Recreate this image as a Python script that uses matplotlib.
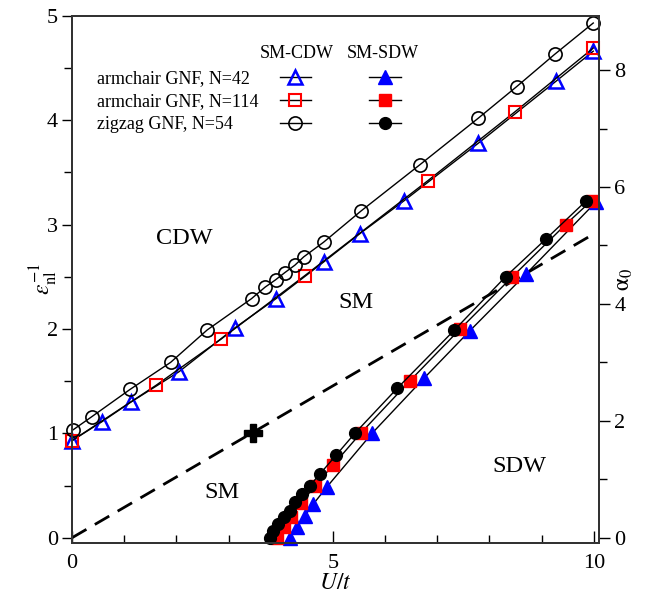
import matplotlib.pyplot as plt
from matplotlib.lines import Line2D
import numpy as np

plt.rcParams['font.family'] = ['Liberation Serif', 'DejaVu Serif']
plt.rcParams['mathtext.fontset'] = 'stix'

# --- data (U/t, eps_nl^-1) ---
# SM-CDW boundary
cdw42_x = [0.0, 0.57, 1.13, 2.05, 3.12, 3.91, 4.82, 5.51, 6.37, 7.79, 9.27, 9.99]
cdw42_y = [0.93, 1.11, 1.30, 1.59, 2.01, 2.29, 2.64, 2.91, 3.23, 3.78, 4.37, 4.66]

cdw114_x = [0.0, 1.61, 2.85, 4.46, 6.82, 8.49, 9.99]
cdw114_y = [0.93, 1.46, 1.90, 2.51, 3.42, 4.08, 4.69]

cdw54_x = [0.01, 0.38, 1.11, 1.89, 2.59, 3.44, 3.70, 3.90, 4.08, 4.27, 4.44,
           4.82, 5.54, 6.66, 7.79, 8.52, 9.25, 9.99]
cdw54_y = [1.03, 1.16, 1.42, 1.68, 1.99, 2.29, 2.40, 2.47, 2.54, 2.61, 2.69,
           2.83, 3.13, 3.57, 4.02, 4.32, 4.63, 4.93]

# SM-SDW boundary
sdw42_x = [4.18, 4.32, 4.46, 4.62, 4.89, 5.75, 6.75, 7.62, 8.71, 10.05]
sdw42_y = [0.0, 0.10, 0.21, 0.32, 0.49, 1.0, 1.53, 1.98, 2.53, 3.22]

sdw114_x = [3.93, 4.06, 4.19, 4.39, 4.66, 5.01, 5.53, 6.47, 7.44, 8.44, 9.46, 9.96]
sdw114_y = [0.0, 0.10, 0.20, 0.33, 0.50, 0.70, 1.0, 1.50, 2.0, 2.50, 3.0, 3.23]

sdw54_x = [3.80, 3.86, 3.95, 4.06, 4.17, 4.28, 4.41, 4.56, 4.75, 5.06, 5.42,
           6.23, 7.33, 8.31, 9.08, 9.86]
sdw54_y = [0.0, 0.06, 0.13, 0.20, 0.26, 0.34, 0.42, 0.50, 0.61, 0.79, 1.0,
           1.43, 1.99, 2.50, 2.86, 3.23]

# dashed guide line and the cross
dash_x = [0.0, 10.0]
dash_y = [0.0, 2.91]
cross_x = [3.46]
cross_y = [1.0]

names = ["armchair GNF, N=42", "armchair GNF, N=114", "zigzag GNF, N=54"]

fig = plt.figure(figsize=(6.56, 5.97), dpi=100)
ax = fig.add_axes([0.1098, 0.0905, 0.8033, 0.8832])

ax.plot(dash_x, dash_y, color='k', lw=2, linestyle=(0, (6, 3.5)))
ax.plot(cross_x, cross_y, marker='P', color='k', ms=13, ls='none')

h1, = ax.plot(cdw42_x, cdw42_y, color='k', lw=1, marker='^', ms=10,
              mfc='none', mec='blue', mew=1.8, clip_on=False)
h2, = ax.plot(cdw114_x, cdw114_y, color='k', lw=1, marker='s', ms=9,
              mfc='none', mec='red', mew=1.5, clip_on=False)
h3, = ax.plot(cdw54_x, cdw54_y, color='k', lw=1, marker='o', ms=9.5,
              mfc='none', mec='k', mew=1.2, clip_on=False)

h4, = ax.plot(sdw42_x, sdw42_y, color='k', lw=1, marker='^', ms=10,
              mfc='blue', mec='blue', clip_on=False)
h5, = ax.plot(sdw114_x, sdw114_y, color='k', lw=1, marker='s', ms=8.5,
              mfc='red', mec='red', clip_on=False)
h6, = ax.plot(sdw54_x, sdw54_y, color='k', lw=1, marker='o', ms=8.5,
              mfc='k', mec='k', clip_on=False)

ax.set_xlim(0, 10.1)
ax.set_ylim(-0.05, 5.0)
ax.set_xticks([0, 5, 10])
ax.set_xticks(np.arange(0, 11, 1), minor=True)
ax.set_yticks([0, 1, 2, 3, 4, 5])
ax.set_yticks(np.arange(0.5, 5, 1), minor=True)
ax.tick_params(axis='x', which='major', direction='in', length=9, width=1,
               labelsize=16, pad=8)
ax.tick_params(axis='x', which='minor', direction='in', length=6, width=1)
ax.tick_params(axis='y', which='major', direction='out', length=7, width=1,
               labelsize=16, pad=3)
ax.tick_params(axis='y', which='minor', direction='out', length=6, width=1)
for s in ax.spines.values():
    s.set_linewidth(1.4)
    s.set_color('#333333')

ax.set_xlabel(r'$U/t$', fontsize=17, labelpad=0)
ax.set_ylabel(r'$\epsilon_{\rm nl}^{-1}$', fontsize=17, labelpad=-9)

ax2 = ax.twinx()
ax2.set_ylim(-0.09, 8.93)
ax2.set_yticks([0, 2, 4, 6, 8])
ax2.set_yticks([1, 3, 5, 7], minor=True)
ax2.tick_params(axis='y', which='major', direction='out', length=8, width=1,
                labelsize=16, pad=3)
ax2.tick_params(axis='y', which='minor', direction='out', length=6, width=1)
ax2.set_ylabel(r'$\mathrm{\alpha}_0$', fontsize=17, labelpad=-8)
for s in ax2.spines.values():
    s.set_linewidth(1.4)
    s.set_color('#333333')

# region labels
ax.text(2.15, 2.87, "CDW", fontsize=17.5, ha='center', va='center')
ax.text(5.45, 2.25, "SM", fontsize=17.5, ha='center', va='center')
ax.text(2.88, 0.43, "SM", fontsize=17.5, ha='center', va='center')
ax.text(8.57, 0.68, "SDW", fontsize=17.5, ha='center', va='center')

# legend: names column, then SM-CDW and SM-SDW symbol columns
blank = Line2D([], [], ls='none')
ax.legend([blank, blank, blank, h1, h2, h3, h4, h5, h6],
          names + [""] * 6, ncol=3, frameon=False, fontsize=13,
          loc='upper left', bbox_to_anchor=(-0.082, 0.897),
          borderaxespad=0, borderpad=0, handlelength=1.75,
          handletextpad=2.0, columnspacing=1.2, labelspacing=0.33)

ax.text(0.427, 0.929, "SM-CDW", fontsize=13, ha='center', va='center',
        transform=ax.transAxes)
ax.text(0.590, 0.929, "SM-SDW", fontsize=13, ha='center', va='center',
        transform=ax.transAxes)

fig.savefig("out.png", dpi=100)
